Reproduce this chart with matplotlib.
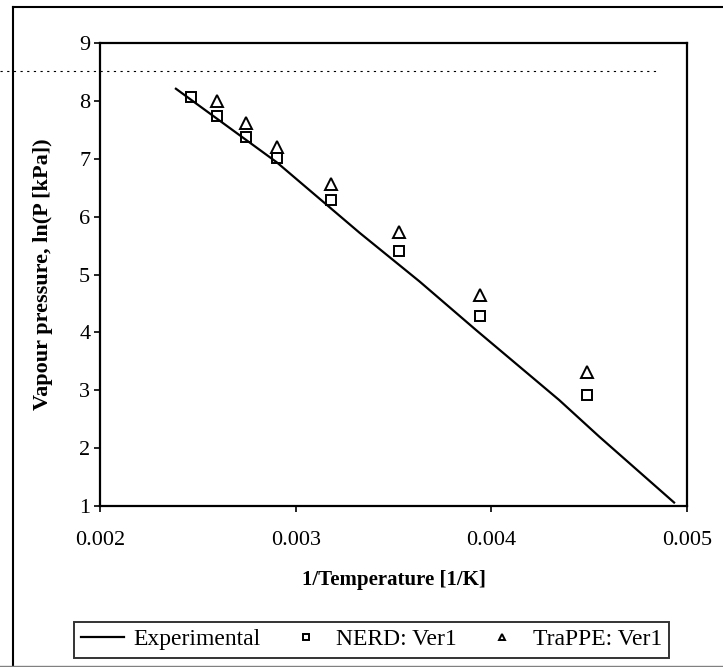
import matplotlib
matplotlib.use('Agg')
import matplotlib.pyplot as plt
from matplotlib.lines import Line2D

plt.rcParams['font.family'] = ['Liberation Serif', 'DejaVu Serif']

# experimental curve
exp_x = [0.002388, 0.002903, 0.003327, 0.003633, 0.003922, 0.004347, 0.004551, 0.004934]
exp_y = [8.21, 6.94, 5.72, 4.88, 4.04, 2.83, 2.20, 1.06]

# NERD: Ver1
nerd_x = [0.002463, 0.002600, 0.002745, 0.002905, 0.003182, 0.003527, 0.003944, 0.004488]
nerd_y = [8.06, 7.74, 7.38, 7.02, 6.28, 5.41, 4.29, 2.92]

# TraPPE: Ver1
trappe_x = [0.002600, 0.002745, 0.002905, 0.003182, 0.003527, 0.003944, 0.004488]
trappe_y = [7.99, 7.61, 7.21, 6.56, 5.73, 4.64, 3.32]

xticks = [0.002, 0.003, 0.004, 0.005]
xticklabels = ['0.002', '0.003', '0.004', '0.005']
yticks = [1, 2, 3, 4, 5, 6, 7, 8, 9]

fig = plt.figure(figsize=(7.23, 6.67), dpi=100)
ax = fig.add_axes([0.1383, 0.2414, 0.8119, 0.6941])

ax.plot(exp_x, exp_y, color='black', lw=1.6, label='Experimental')
ax.plot(nerd_x, nerd_y, ls='none', marker='s', ms=7.5, mfc='none', mec='black',
        mew=1.4, label='NERD: Ver1')
ax.plot(trappe_x, trappe_y, ls='none', marker='^', ms=8, mfc='none', mec='black',
        mew=1.4, label='TraPPE: Ver1')

ax.set_xlim(0.002, 0.005)
ax.set_ylim(1, 9)
ax.set_xticks(xticks)
ax.set_xticklabels(xticklabels)
ax.set_yticks(yticks)
ax.tick_params(direction='out', length=4, width=1.2, labelsize=16)
ax.tick_params(axis='x', pad=14)
ax.tick_params(axis='y', pad=3)
for s in ax.spines.values():
    s.set_linewidth(1.6)

ax.set_xlabel('1/Temperature [1/K]', fontsize=15, fontweight='bold')
ax.set_ylabel('Vapour pressure, ln(P [kPa])', fontsize=16, fontweight='bold')
ax.xaxis.set_label_coords(0.5, -0.138)
ax.yaxis.set_label_coords(-0.080, 0.5)

leg = fig.legend(loc='center', bbox_to_anchor=(0.514, 0.041), ncol=3,
                 fontsize=17, frameon=True, fancybox=False, markerscale=0.6,
                 handlelength=1.8, columnspacing=1.0, handletextpad=0.4,
                 borderpad=0.3, borderaxespad=0)
leg.get_frame().set_edgecolor('black')
leg.get_frame().set_linewidth(1.4)

# outer frame and scan line
fig.add_artist(Line2D([0.018, 0.018], [0.0, 0.9895], color='black', lw=1.5))
fig.add_artist(Line2D([0.018, 1.0], [0.9895, 0.9895], color='black', lw=1.5))
fig.add_artist(Line2D([0.0, 1.0], [0.0015, 0.0015], color='gray', lw=1.0))
fig.add_artist(Line2D([0.0, 0.91], [0.8936, 0.8936], color='black', lw=0.8,
                      ls=(0, (2, 4))))

fig.savefig('out.png', dpi=100)
